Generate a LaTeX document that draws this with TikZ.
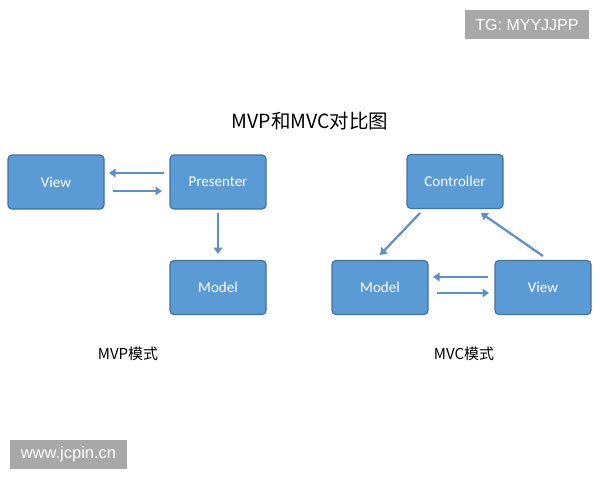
\documentclass[tikz,border=0pt]{standalone}
\usepackage{fontspec}
\setmainfont{Carlito}
\newfontfamily\cjk{Noto Sans CJK SC}
\newfontfamily\wm{Liberation Sans}
\usetikzlibrary{arrows.meta}
\definecolor{boxfill}{HTML}{5B9BD5}
\definecolor{boxline}{HTML}{41719C}
\definecolor{arr}{HTML}{5E8FC3}
\definecolor{wmgray}{HTML}{A8A8A8}
\tikzset{
  blk/.style={draw=boxline, fill=boxfill, line width=1.2pt, rounded corners=4pt,
    minimum width=96pt, minimum height=54pt, inner sep=0pt, text=white,
    font=\fontsize{15}{17}\selectfont},
  conn/.style={draw=arr, line width=2.2pt, -{Triangle[length=6.5pt,width=8.5pt]}},
  wmark/.style={fill=wmgray, text=white, inner sep=0pt},
  lbl/.style={inner sep=0pt, font=\cjk\fontsize{15}{17}\selectfont}
}
\begin{document}
\begin{tikzpicture}[x=1pt,y=-1pt]
\useasboundingbox (0,0) rectangle (600,480);
% MVP
\node[blk] (v1) at (56,182) {View};
\node[blk] (p1) at (218,182) {Presenter};
\node[blk] (m1) at (218,287.5) {Model};
\coordinate (a1s) at (164,173); \coordinate (a1e) at (109,173);
\coordinate (a2s) at (113,191); \coordinate (a2e) at (162,191);
\draw[conn] (a1s) -- (a1e);
\draw[conn] (a2s) -- (a2e);
\coordinate (a3s) at (218,213); \coordinate (a3e) at (218,254);
\draw[conn] (a3s) -- (a3e);
% MVC
\node[blk] (c2) at (455,181.5) {Controller};
\node[blk] (m2) at (380,287.5) {Model};
\node[blk] (v2) at (543,287.5) {View};
\coordinate (b1s) at (420,213); \coordinate (b1e) at (380,255);
\coordinate (b2s) at (543,256); \coordinate (b2e) at (481,213);
\draw[conn] (b1s) -- (b1e);
\draw[conn] (b2s) -- (b2e);
\coordinate (b3s) at (488,277); \coordinate (b3e) at (433,277);
\coordinate (b4s) at (437,293); \coordinate (b4e) at (489,293);
\draw[conn] (b3s) -- (b3e);
\draw[conn] (b4s) -- (b4e);
% texts
\node[lbl, font=\cjk\fontsize{19.5}{22}\selectfont] (title) at (310,121) {MVP和MVC对比图};
\node[lbl] (l1) at (128,354) {MVP模式};
\node[lbl] (l2) at (464,354) {MVC模式};
% watermarks
\node[wmark, font=\wm\fontsize{16}{18}\selectfont, minimum width=124pt, minimum height=29pt] (tg) at (527,24.5) {TG: MYYJJPP};
\node[wmark, font=\wm\fontsize{16.5}{18}\selectfont, minimum width=117pt, minimum height=29pt] (www) at (68.5,454.5) {www.jcpin.cn};
\end{tikzpicture}
\end{document}
